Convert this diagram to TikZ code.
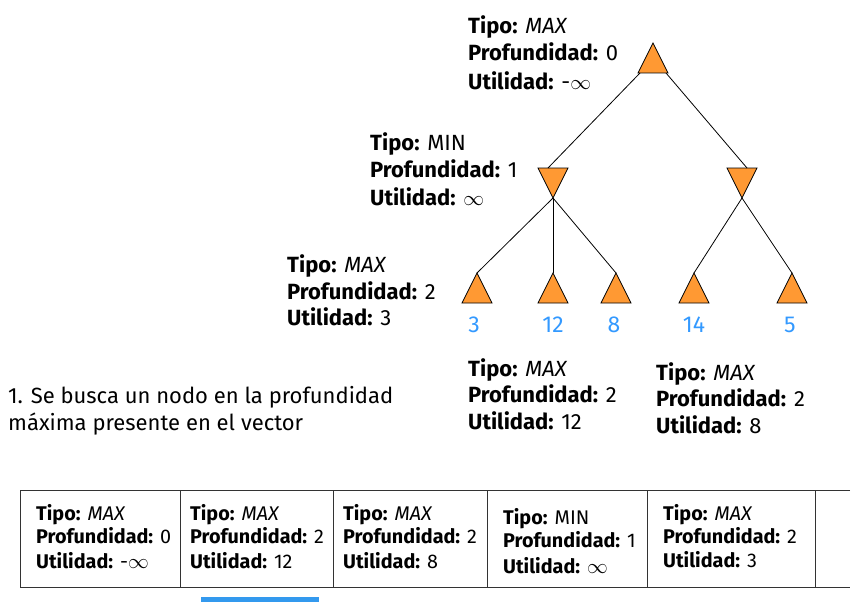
\documentclass[tikz,border=0pt]{standalone}
\usepackage{fontspec}
\setmainfont{Fira Sans}
\definecolor{tri}{HTML}{FF9933}
\definecolor{num}{HTML}{3399FF}
\definecolor{bar}{HTML}{3399EE}
\newcommand\lk[1]{\textbf{#1:}}
\tikzset{
  treetri/.style={fill=tri,draw=black,line width=0.8pt,line join=miter},
  edge/.style={draw=black,line width=0.8pt},
  lblbig/.style={anchor=base west,inner sep=0pt,font=\fontsize{22}{26}\selectfont},
  lblsmall/.style={anchor=base west,inner sep=0pt,font=\fontsize{19.8}{23}\selectfont},
  numlbl/.style={anchor=center,inner sep=0pt,text=num,font=\fontsize{23}{27}\selectfont},
  cellline/.style={draw=black!80,line width=1pt}
}
\begin{document}
\begin{tikzpicture}[x=1pt,y=-1pt]
\useasboundingbox (0,0) rectangle (857,602);
% triangles
\path[treetri] (638,73) -- (653,43) -- (668,73) -- cycle;
\coordinate (rootL) at (640,73);
\coordinate (rootR) at (666,73);
\path[treetri] (538,168) -- (568,168) -- (553,198) -- cycle;
\coordinate (m1top) at (548,168);
\coordinate (m1) at (553,198);
\path[treetri] (727,168) -- (757,168) -- (742,198) -- cycle;
\coordinate (m2top) at (747,168);
\coordinate (m2) at (742,198);
\foreach \n/\x in {l1/477,l2/553,l3/616,l4/694,l5/792}{
  \path[treetri] (\x-15,303) -- (\x,273) -- (\x+15,303) -- cycle;
  \coordinate (\n) at (\x,273);
}
% edges
\draw[edge] (rootL) -- (m1top);
\draw[edge] (rootR) -- (m2top);
\draw[edge] (m1) -- (l1);
\draw[edge] (m1) -- (l2);
\draw[edge] (m1) -- (l3);
\draw[edge] (m2) -- (l4);
\draw[edge] (m2) -- (l5);
% leaf values
\node[numlbl] (v1) at (474,325) {3};
\node[numlbl] (v2) at (553,325) {12};
\node[numlbl] (v3) at (614,325) {8};
\node[numlbl] (v4) at (694,325) {14};
\node[numlbl] (v5) at (790,325) {5};
% labels
\node[lblbig] (a1) at (468,34) {\lk{Tipo} \textit{MAX}};
\node[lblbig] (a2) at (468,61) {\lk{Profundidad} 0};
\node[lblbig] (a3) at (468,89) {\lk{Utilidad} -$\infty$};
\node[lblbig] (b1) at (370,150) {\lk{Tipo} MIN};
\node[lblbig] (b2) at (370,177) {\lk{Profundidad} 1};
\node[lblbig] (b3) at (370,205) {\lk{Utilidad} $\infty$};
\node[lblbig] (c1) at (287,272) {\lk{Tipo} \textit{MAX}};
\node[lblbig] (c2) at (287,299) {\lk{Profundidad} 2};
\node[lblbig] (c3) at (287,325) {\lk{Utilidad} 3};
\node[lblbig] (d1) at (468,376) {\lk{Tipo} \textit{MAX}};
\node[lblbig] (d2) at (468,402) {\lk{Profundidad} 2};
\node[lblbig] (d3) at (468,429) {\lk{Utilidad} 12};
\node[lblbig] (e1) at (656,380) {\lk{Tipo} \textit{MAX}};
\node[lblbig] (e2) at (656,406) {\lk{Profundidad} 2};
\node[lblbig] (e3) at (656,433) {\lk{Utilidad} 8};
\node[lblbig] (s1) at (8,403) {1. Se busca un nodo en la profundidad};
\node[lblbig] (s2) at (8,430) {máxima presente en el vector};
% table
\draw[cellline] (850,490) -- (20,490) -- (20,587) -- (850,587);
\foreach \x in {180,333,487,647,815}{\draw[cellline] (\x,490) -- (\x,587);}
\node[lblsmall] (t11) at (36,520) {\lk{Tipo} \textit{MAX}};
\node[lblsmall] (t12) at (36,543) {\lk{Profundidad} 0};
\node[lblsmall] (t13) at (36,568) {\lk{Utilidad} -$\infty$};
\node[lblsmall] (t21) at (190,520) {\lk{Tipo} \textit{MAX}};
\node[lblsmall] (t22) at (190,543) {\lk{Profundidad} 2};
\node[lblsmall] (t23) at (190,568) {\lk{Utilidad} 12};
\node[lblsmall] (t31) at (343,520) {\lk{Tipo} \textit{MAX}};
\node[lblsmall] (t32) at (343,543) {\lk{Profundidad} 2};
\node[lblsmall] (t33) at (343,568) {\lk{Utilidad} 8};
\node[lblsmall] (t41) at (503,524) {\lk{Tipo} MIN};
\node[lblsmall] (t42) at (503,547) {\lk{Profundidad} 1};
\node[lblsmall] (t43) at (503,573) {\lk{Utilidad} $\infty$};
\node[lblsmall] (t51) at (663,520) {\lk{Tipo} \textit{MAX}};
\node[lblsmall] (t52) at (663,543) {\lk{Profundidad} 2};
\node[lblsmall] (t53) at (663,567) {\lk{Utilidad} 3};
% blue bar
\fill[bar] (201,597) rectangle (319,602);
\end{tikzpicture}
\end{document}
